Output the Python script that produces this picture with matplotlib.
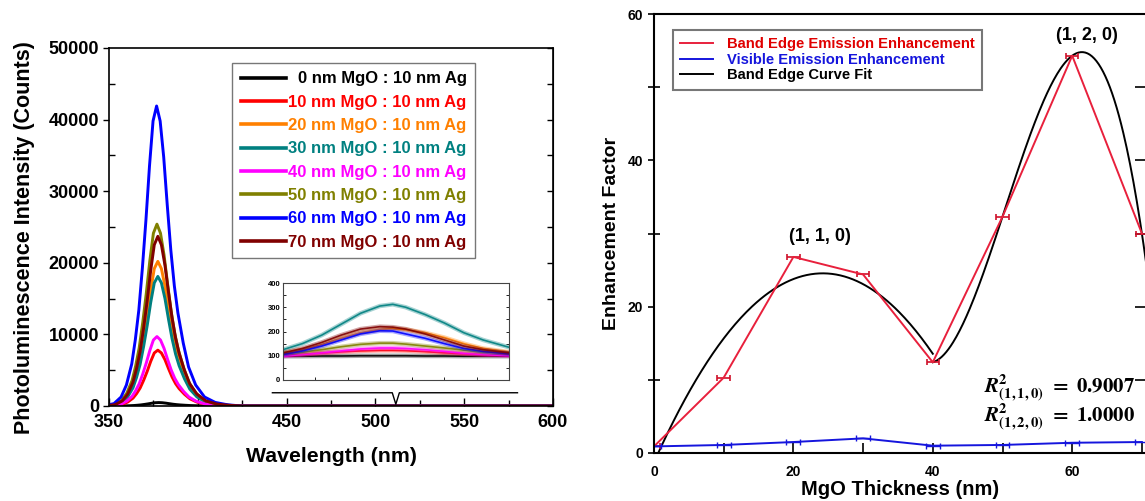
import numpy as np
import matplotlib
matplotlib.use('Agg')
import matplotlib.pyplot as plt
from matplotlib.lines import Line2D
from matplotlib.ticker import MultipleLocator, NullFormatter

plt.rcParams['font.family'] = ['Liberation Sans', 'DejaVu Sans']
plt.rcParams['font.weight'] = 'bold'
plt.rcParams['axes.labelweight'] = 'bold'
plt.rcParams['mathtext.fontset'] = 'stix'

# ---- PL spectra (left) ----
samples = ['0 nm MgO : 10 nm Ag', '10 nm MgO : 10 nm Ag', '20 nm MgO : 10 nm Ag',
           '30 nm MgO : 10 nm Ag', '40 nm MgO : 10 nm Ag', '50 nm MgO : 10 nm Ag',
           '60 nm MgO : 10 nm Ag', '70 nm MgO : 10 nm Ag']
colors = ['#000000', '#ff0000', '#ff8000', '#008080', '#ff00ff', '#808000', '#0000ff', '#800000']
peak_nm = [378.0, 377.5, 377.5, 377.5, 377.0, 377.0, 376.8, 377.5]
peak_counts = [480, 7800, 20200, 18100, 9700, 25400, 41900, 23700]

# band-edge line shape (nm from peak, fraction of peak)
profile_offset = [-30, -24, -20, -17, -14, -12, -10, -8, -6, -4, -2, 0, 2, 4, 6, 8,
                  10, 12, 15, 18, 22, 27, 33, 40, 48]
profile_shape = [0, 0.008, 0.03, 0.07, 0.14, 0.22, 0.32, 0.46, 0.62, 0.8, 0.95, 1.0,
                 0.95, 0.83, 0.67, 0.52, 0.4, 0.31, 0.21, 0.13, 0.07, 0.03, 0.012, 0.004, 0]

# visible emission (inset)
vis_nm = [425, 440, 455, 470, 485, 500, 510, 520, 535, 550, 565, 580, 600]
vis_counts = [
    [98, 98, 99, 99, 100, 100, 100, 100, 99, 99, 98, 98, 98],
    [102, 106, 111, 116, 120, 122, 122, 121, 117, 112, 108, 105, 103],
    [110, 125, 145, 172, 195, 208, 212, 208, 195, 175, 150, 130, 115],
    [125, 150, 185, 230, 275, 305, 312, 300, 270, 235, 195, 165, 135],
    [98, 105, 112, 120, 128, 132, 132, 130, 125, 118, 110, 105, 100],
    [108, 115, 125, 137, 147, 152, 152, 148, 140, 132, 123, 115, 110],
    [105, 120, 140, 165, 190, 203, 202, 190, 172, 150, 130, 118, 108],
    [112, 130, 155, 185, 210, 220, 218, 210, 190, 165, 140, 125, 112],
]

# ---- enhancement factor (right) ----
thickness = [0, 10, 20, 30, 40, 50, 60, 70]
band_edge = [0.9, 10.3, 26.8, 24.4, 12.4, 32.3, 54.3, 30.0]
visible = [0.9, 1.1, 1.5, 2.0, 1.0, 1.1, 1.4, 1.5]
r2_labels = [r'$\mathbfit{R}^{\mathbf{2}}_{\mathbf{(1,1,0)}}\ \mathbf{=\ 0.9007}$',
             r'$\mathbfit{R}^{\mathbf{2}}_{\mathbf{(1,2,0)}}\ \mathbf{=\ 1.0000}$']

W, H = 1145, 501
fig = plt.figure(figsize=(W / 100, H / 100), dpi=100)

def px_axes(x0, y0, x1, y1):
    return fig.add_axes([x0 / W, 1 - y1 / H, (x1 - x0) / W, (y1 - y0) / H])

# ================= left panel =================
ax = px_axes(109, 48, 553, 406)
for i in [0, 1, 2, 3, 4, 5, 6, 7]:
    wl = [350] + [peak_nm[i] + o for o in profile_offset] + [600]
    y = [0] + [peak_counts[i] * s for s in profile_shape] + [0]
    ax.plot(wl, y, color=colors[i], lw=2.1, label=samples[i])

ax.set_xlim(350, 600)
ax.set_ylim(0, 50000)
ax.xaxis.set_major_locator(MultipleLocator(50))
ax.xaxis.set_minor_locator(MultipleLocator(25))
ax.yaxis.set_major_locator(MultipleLocator(10000))
ax.yaxis.set_minor_locator(MultipleLocator(5000))
ax.tick_params(axis='x', which='major', direction='in', length=6, width=1, labelsize=13, pad=6)
ax.tick_params(axis='x', which='minor', direction='in', length=4, width=1)
ax.tick_params(axis='y', which='major', direction='out', length=4, width=1, labelsize=13, pad=3)
ax.tick_params(axis='y', which='minor', direction='in', length=4, width=1)
sec = ax.secondary_yaxis('right')
sec.yaxis.set_major_locator(MultipleLocator(5000))
sec.yaxis.set_major_formatter(NullFormatter())
sec.tick_params(direction='in', length=4, width=1)
for s in ax.spines.values():
    s.set_linewidth(1.2)
ax.set_xlabel('Wavelength (nm)', fontsize=15.3, va='center')
ax.xaxis.set_label_coords(0.5, -0.14)
ax.set_ylabel('Photoluminescence Intensity (Counts)', fontsize=15.5, va='center')
ax.yaxis.set_label_coords(-0.19, 0.47)

leg = ax.legend(loc='upper right', bbox_to_anchor=(475 / W, 1 - 63 / H),
                bbox_transform=fig.transFigure, fontsize=12, handlelength=2.75,
                handletextpad=0.12, labelspacing=0.5, borderpad=0.5,
                frameon=True, fancybox=False, borderaxespad=0)
leg.get_frame().set_edgecolor('#555555')
leg.get_frame().set_linewidth(1.0)
for t, c in zip(leg.get_texts(), colors):
    t.set_color(c)
for h in leg.get_lines():
    h.set_linewidth(2.6)
# right-align legend labels
fig.canvas.draw()
widths = [t.get_window_extent().width for t in leg.get_texts()]
for t, w in zip(leg.get_texts(), widths):
    t.set_position((max(widths) - w, 0))

# brace under the inset pointing at the visible band
bx0, bx1, bmid, by, btip = 442, 580, 511.5, 1850, 250
ax.plot([bx0, bmid - 2, bmid, bmid + 2, bx1], [by, by, btip, by, by], color='black', lw=1.0)

# inset: visible emission
ins = px_axes(283, 283, 509, 380)
for i in [0, 1, 2, 3, 4, 5, 6, 7]:
    ins.plot(vis_nm, vis_counts[i], color=colors[i], lw=3.2, alpha=0.35)
    ins.plot(vis_nm, vis_counts[i], color=colors[i], lw=1.2, alpha=0.9)
ins.set_xlim(425, 600)
ins.set_ylim(0, 400)
ins.xaxis.set_major_locator(MultipleLocator(25))
ins.xaxis.set_major_formatter(NullFormatter())
ins.yaxis.set_major_locator(MultipleLocator(100))
ins.yaxis.set_minor_locator(MultipleLocator(50))
ins.tick_params(which='both', direction='in', length=2.5, width=0.6, labelsize=5.5, pad=2,
                right=True)
for s in ins.spines.values():
    s.set_linewidth(0.8)
    s.set_color('#444444')

# ================= right panel =================
ax2 = px_axes(654, 14, 654 + 71 * 6.97, 453)
red, blue = '#e8203c', '#1515dd'

# quadratic fit for (1,1,0), cubic for (1,2,0)
c1 = np.polyfit(thickness[:5], band_edge[:5], 2)
x1 = np.linspace(thickness[0], thickness[4], 200)
c2 = np.polyfit(thickness[4:], band_edge[4:], 3)
x2 = np.linspace(thickness[4], 72, 200)
ax2.plot(x1, np.polyval(c1, x1), color='black', lw=1.4)
ax2.plot(x2, np.polyval(c2, x2), color='black', lw=1.4)

ax2.errorbar(thickness, band_edge, xerr=0.9, color=red, ecolor='#d0102a', lw=1.4,
             elinewidth=1.2, capsize=2.5, capthick=1.2)
ax2.errorbar(thickness, visible, xerr=1.0, color=blue, ecolor=blue, lw=1.4,
             elinewidth=1.0, capsize=2, capthick=1.0)

ax2.set_xlim(0, 71)
ax2.set_ylim(0, 60)
ax2.xaxis.set_major_locator(MultipleLocator(20))
ax2.xaxis.set_minor_locator(MultipleLocator(10))
ax2.yaxis.set_major_locator(MultipleLocator(20))
ax2.yaxis.set_minor_locator(MultipleLocator(10))
ax2.tick_params(axis='x', which='both', direction='in', length=7, width=1.2, labelsize=10, pad=9)
ax2.tick_params(axis='y', which='major', direction='out', length=4, width=1.2, labelsize=10, pad=4)
ax2.tick_params(axis='y', which='minor', direction='inout', length=8, width=1.2)
sec2 = ax2.secondary_yaxis('right')
sec2.yaxis.set_major_locator(MultipleLocator(10))
sec2.yaxis.set_major_formatter(NullFormatter())
sec2.tick_params(direction='in', length=10, width=1.2)
for s in ax2.spines.values():
    s.set_linewidth(1.5)
ax2.set_xlabel('MgO Thickness (nm)', fontsize=14.5, va='center')
ax2.xaxis.set_label_coords(0.497, -0.084)
ax2.set_ylabel('Enhancement Factor', fontsize=14, va='center')
ax2.yaxis.set_label_coords(-0.085, 0.5)

leg_handles = [Line2D([], [], color=red, lw=1.4), Line2D([], [], color=blue, lw=1.4),
               Line2D([], [], color='black', lw=1.4)]
leg_labels = ['Band Edge Emission Enhancement', 'Visible Emission Enhancement',
              'Band Edge Curve Fit']
leg2 = ax2.legend(leg_handles, leg_labels,
                  loc='upper left', bbox_to_anchor=(673 / W, 1 - 30 / H),
                  bbox_transform=fig.transFigure, fontsize=10.6, handlelength=2.25,
                  handletextpad=0.9, labelspacing=0.1, borderpad=0.5,
                  frameon=True, fancybox=False, borderaxespad=0)
leg2.get_frame().set_edgecolor('#555555')
leg2.get_frame().set_linewidth(1.5)
for t, c in zip(leg2.get_texts(), ['#e00000', blue, 'black']):
    t.set_color(c)

ax2.text(23.8, 29.6, '(1, 1, 0)', fontsize=13, ha='center', va='center')
ax2.text(62.1, 57.0, '(1, 2, 0)', fontsize=13, ha='center', va='center')
ax2.text(47.4, 8.9, r2_labels[0], fontsize=15, ha='left', va='center')
ax2.text(47.4, 4.9, r2_labels[1], fontsize=15, ha='left', va='center')

fig.savefig('out.png', dpi=100)
